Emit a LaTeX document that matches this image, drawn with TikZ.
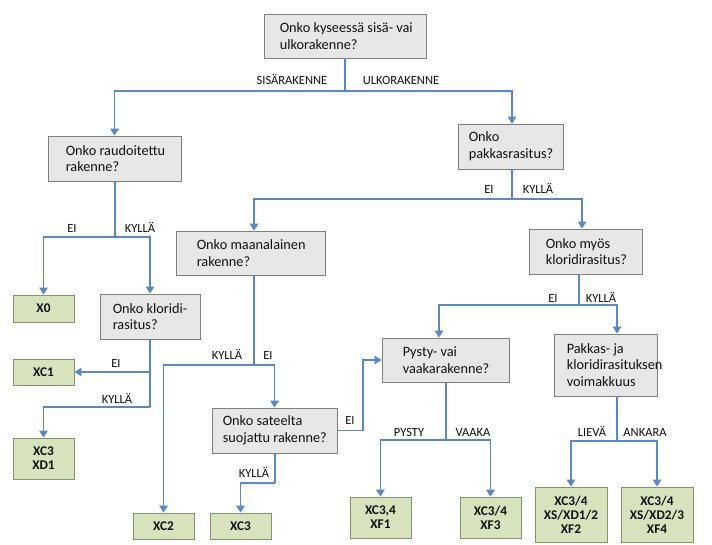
\documentclass[tikz,border=0pt]{standalone}
\usepackage{fontspec}
\setmainfont{Carlito}
\usetikzlibrary{arrows.meta,calc}
\definecolor{lineblue}{HTML}{5A88C2}
\definecolor{qfill}{HTML}{E7E7E7}
\definecolor{qdraw}{HTML}{808080}
\definecolor{afill}{HTML}{D6E3BD}
\definecolor{adraw}{HTML}{82966A}
\definecolor{txt}{HTML}{111111}
\newcommand\qnode[7]{%
  \node[qbox, minimum width=#4pt, minimum height=#5pt] (#1) at (#2,#3) {};
  \node[qtext] (#1t) at ([xshift=#6pt]#1.west) {#7};}
\begin{document}
\begin{tikzpicture}[x=1pt,y=-1pt,
  line/.style={draw=lineblue, line width=1.6pt},
  arr/.style={line, -{Triangle[length=7pt,width=8.5pt]}},
  qbox/.style={draw=qdraw, fill=qfill, line width=0.9pt, inner sep=0pt},
  qtext/.style={anchor=west, align=left, inner sep=0pt, text=txt,
    font=\fontsize{14.3}{16.8}\selectfont},
  abox/.style={draw=adraw, fill=afill, line width=0.9pt, inner sep=0pt,
    align=center, text=txt, font=\fontsize{13.3}{14}\selectfont\bfseries},
  lbl/.style={inner sep=0pt, text height=8pt, text depth=0pt, text=txt,
    font=\fontsize{12.5}{14}\selectfont}
]
\useasboundingbox (0,0) rectangle (712,545);
\fill[white] (0,0) rectangle (712,545);

% question boxes
\qnode{top}{345}{36}{162}{44}{16}{Onko kyseessä sisä- vai\\ulkorakenne?}
\qnode{raud}{114.5}{158.5}{133}{45}{18}{Onko raudoitettu\\rakenne?}
\qnode{pakkas}{510.5}{146.5}{105}{45}{11}{Onko\\pakkasrasitus?}
\qnode{maan}{250.5}{253}{149}{44}{21}{Onko maanalainen\\rakenne?}
\qnode{myos}{585.75}{251.5}{113.5}{45}{17}{Onko myös\\kloridirasitus?}
\qnode{klor}{150}{316.5}{100}{45}{13}{Onko kloridi-\\rasitus?}
\qnode{sat}{274.5}{430.5}{125}{45}{11}{Onko sateelta\\suojattu rakenne?}
\qnode{pysty}{445.5}{360}{127}{44}{21}{Pysty- vai\\vaakarakenne?}
\qnode{pkj}{605.5}{365}{103}{62}{13}{Pakkas- ja\\kloridirasituksen\\voimakkuus}

% answer boxes
\node[abox, minimum width=61pt, minimum height=27pt] (x0) at (43.5,308.5) {X0};
\node[abox, minimum width=61pt, minimum height=26pt] (xc1) at (43.5,372) {XC1};
\node[abox, minimum width=61pt, minimum height=41pt] (xd1) at (43.5,458.5) {XC3\\XD1};
\node[abox, minimum width=61pt, minimum height=26pt] (xc2) at (163.5,526) {XC2};
\node[abox, minimum width=61pt, minimum height=26pt] (xc3) at (240.5,526) {XC3};
\node[abox, minimum width=61pt, minimum height=41pt] (xf1) at (380.5,517.5) {XC3,4\\XF1};
\node[abox, minimum width=61pt, minimum height=41pt] (xf3) at (490.5,517.5) {XC3/4\\XF3};
\node[abox, minimum width=72pt, minimum height=55pt] (xf2) at (571,514.5) {XC3/4\\XS/XD1/2\\XF2};
\node[abox, minimum width=72pt, minimum height=55pt] (xf4) at (657,514.5) {XC3/4\\XS/XD2/3\\XF4};

% junctions and connector ends
\coordinate (j1) at (345,91);
\coordinate (j2) at (115,237);
\coordinate (j3) at (512,199);
\coordinate (j4) at (579,305);
\coordinate (j5) at (150,407);
\coordinate (j6) at (254,365);
\coordinate (j7) at (275,483);
\coordinate (j8) at (446,440);
\coordinate (j9) at (617,441);
\coordinate (amy) at (582,0);
\coordinate (apy) at (439,0);
\coordinate (es) at (363,0);

% connectors
\draw[line] (j1 |- top.south) -- (j1);
\draw[arr] (j1) -| (raud.north);
\draw[arr] (j1) -| (j3 |- pakkas.north);

\draw[line] (j2 |- raud.south) -- (j2);
\draw[arr] (j2) -| (x0.north);
\draw[arr] (j2) -| (klor.north);

\draw[line] (j3 |- pakkas.south) -- (j3);
\draw[arr] (j3) -| (j6 |- maan.north);
\draw[arr] (j3) -| (amy |- myos.north);

\draw[line] (j4 |- myos.south) -- (j4);
\draw[arr] (j4) -| (apy |- pysty.north);
\draw[arr] (j4) -| (j9 |- pkj.north);

\draw[line] (j5 |- klor.south) -- (j5);
\draw[arr] (j5 |- xc1.east) -- (xc1.east);
\draw[arr] (j5) -| (xd1.north);

\draw[line] (j6 |- maan.south) -- (j6);
\draw[arr] (j6) -| (xc2.north);
\draw[arr] (j6) -| (sat.north);

\draw[line] (j7 |- sat.south) -- (j7);
\draw[arr] (j7) -| (xc3.north);

\draw[arr] (sat.east) -- (es |- sat.east) |- (pysty.west);

\draw[line] (j8 |- pysty.south) -- (j8);
\draw[arr] (j8) -| (xf1.north);
\draw[arr] (j8) -| (xf3.north);

\draw[line] (j9 |- pkj.south) -- (j9);
\draw[arr] (j9) -| (xf2.north);
\draw[arr] (j9) -| (xf4.north);

% labels
\node[lbl] (l1) at (292,81) {SISÄRAKENNE};
\node[lbl] (l2) at (401,81) {ULKORAKENNE};
\node[lbl] (l3) at (72,229) {EI};
\node[lbl] (l4) at (140,229) {KYLLÄ};
\node[lbl] (l5) at (489,190) {EI};
\node[lbl] (l6) at (538,190) {KYLLÄ};
\node[lbl] (l7) at (116,363) {EI};
\node[lbl] (l8) at (117,399) {KYLLÄ};
\node[lbl] (l9) at (227,355) {KYLLÄ};
\node[lbl] (l10) at (268,355) {EI};
\node[lbl] (l11) at (254,473) {KYLLÄ};
\node[lbl] (l12) at (350,420) {EI};
\node[lbl] (l13) at (553,298) {EI};
\node[lbl] (l14) at (601,298) {KYLLÄ};
\node[lbl] (l15) at (409,432) {PYSTY};
\node[lbl] (l16) at (473,432) {VAAKA};
\node[lbl] (l17) at (592,432) {LIEVÄ};
\node[lbl] (l18) at (645,432) {ANKARA};
\end{tikzpicture}
\end{document}
